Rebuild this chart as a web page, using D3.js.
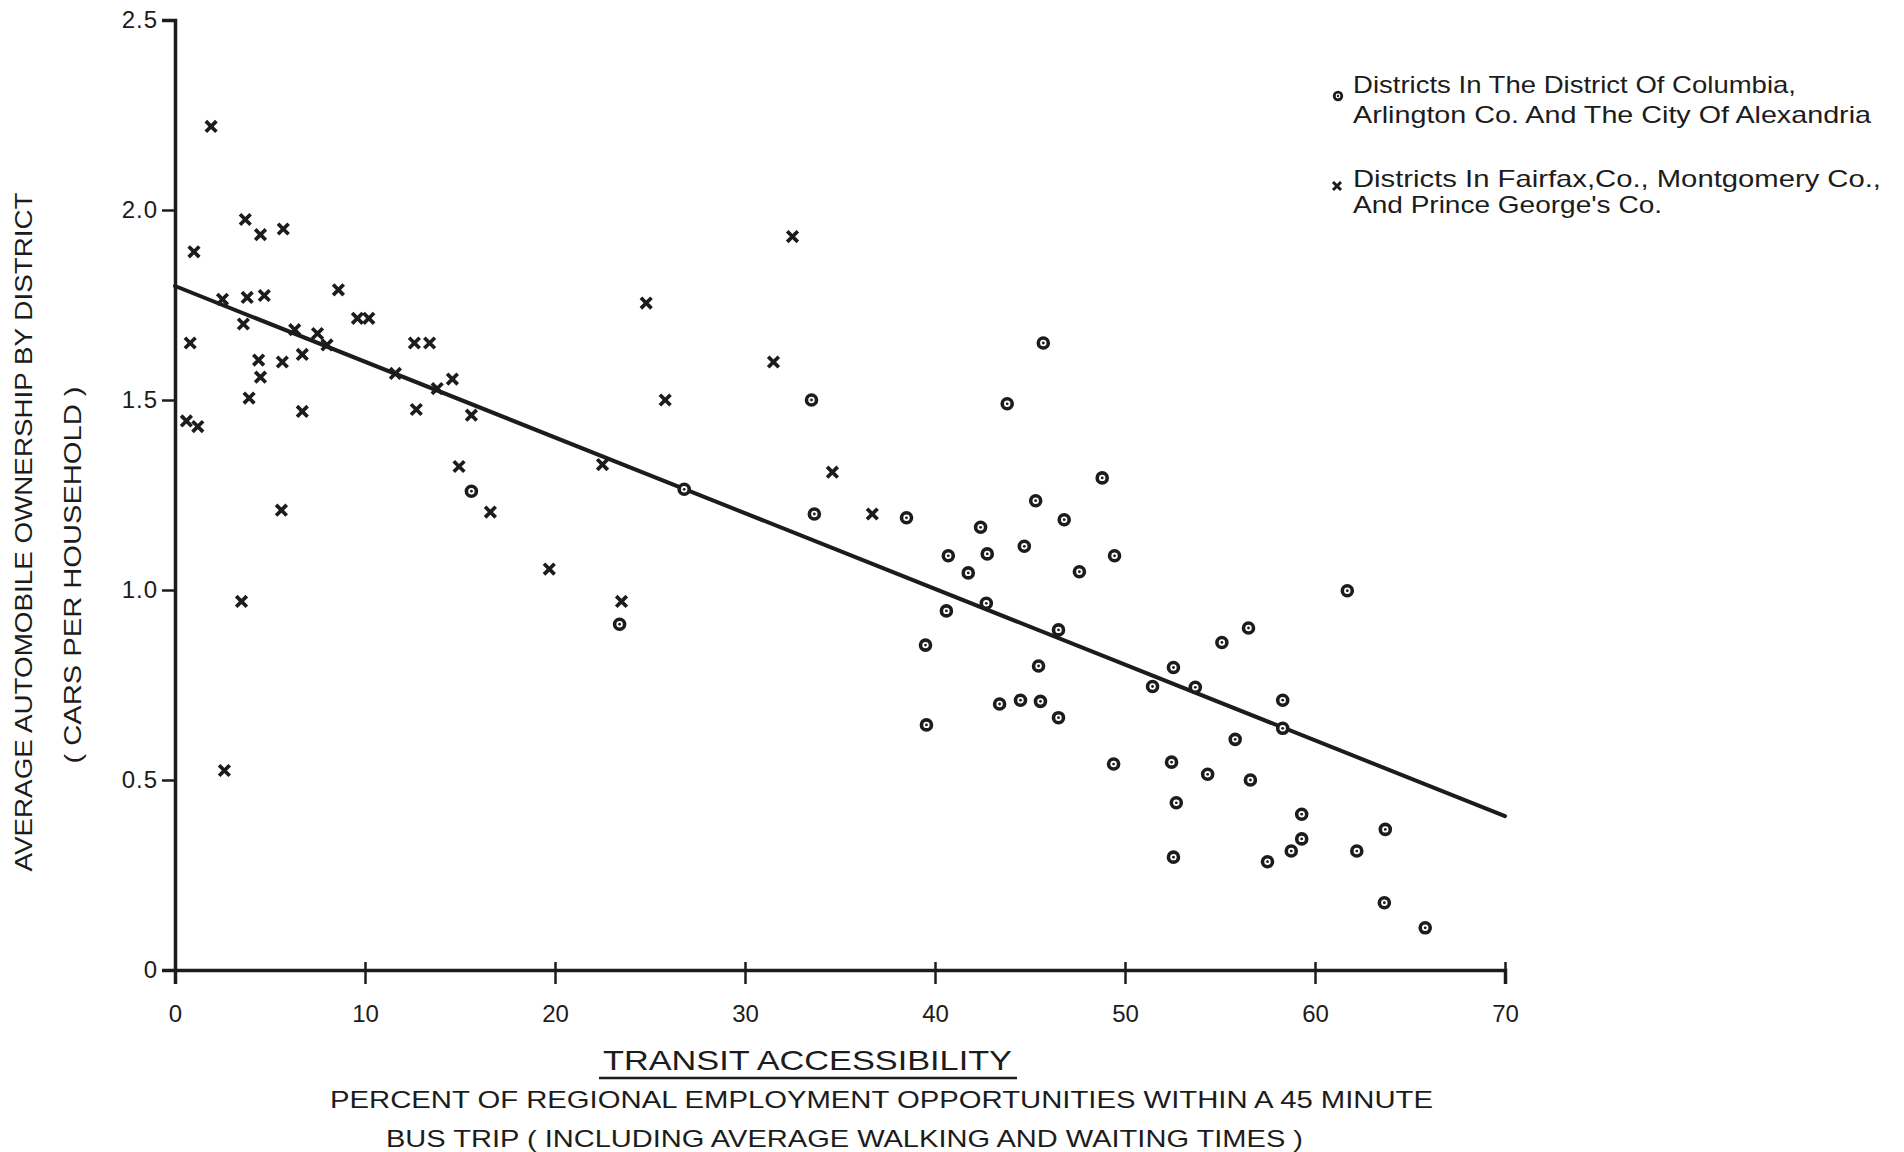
<!DOCTYPE html>
<html>
<head>
<meta charset="utf-8">
<script src="https://cdn.jsdelivr.net/npm/d3@7"></script>
<style>
  html, body { margin: 0; padding: 0; background: #ffffff; }
  svg { display: block; }
  text { font-family: "Liberation Sans", Arial, sans-serif; fill: #1c1c1c; }
</style>
</head>
<body>
<svg id="chart" width="1904" height="1152"></svg>
<script>
// ---------- data ----------
// Districts in D.C., Arlington Co. and the City of Alexandria (circles)
const circleX = [15.6, 23.4, 26.8, 33.5, 33.65, 38.5, 45.7, 43.8, 45.3, 42.4,
                 44.7, 40.7, 42.75, 41.75, 42.7, 40.6, 39.5, 45.45, 43.4, 44.5,
                 45.55, 39.55, 48.8, 46.8, 49.45, 47.6, 61.7, 46.5, 56.5, 55.1,
                 52.55, 51.45, 53.7, 58.3, 58.3, 46.5, 55.8, 49.4, 52.45, 54.35,
                 56.6, 52.7, 59.3, 63.7, 59.3, 58.75, 62.2, 52.55, 57.5, 63.65, 65.8];
const circleY = [1.26, 0.91, 1.265, 1.50, 1.20, 1.19, 1.65, 1.49, 1.235, 1.165,
                 1.115, 1.09, 1.095, 1.045, 0.965, 0.945, 0.855, 0.80, 0.70, 0.71,
                 0.707, 0.645, 1.295, 1.185, 1.09, 1.048, 0.998, 0.895, 0.90, 0.862,
                 0.796, 0.746, 0.744, 0.71, 0.636, 0.664, 0.607, 0.542, 0.547, 0.515,
                 0.50, 0.44, 0.41, 0.37, 0.345, 0.313, 0.313, 0.297, 0.285, 0.177, 0.111];

// Districts in Fairfax, Montgomery and Prince George's Co. (crosses)
const crossX = [1.9, 3.7, 4.5, 5.7, 1.0, 8.6, 2.5, 3.8, 4.7, 9.6,
                10.2, 3.6, 6.3, 7.5, 8.0, 0.8, 4.4, 5.65, 6.7, 4.5,
                3.9, 6.7, 0.6, 1.2, 12.6, 13.4, 11.6, 13.8, 14.6, 12.7,
                15.6, 14.95, 16.6, 5.6, 19.7, 3.5, 2.6, 22.5, 23.5, 24.8,
                32.5, 31.5, 25.8, 34.6, 36.7];
const crossY = [2.22, 1.975, 1.935, 1.95, 1.89, 1.79, 1.765, 1.77, 1.775, 1.715,
                1.715, 1.70, 1.685, 1.675, 1.645, 1.65, 1.605, 1.60, 1.62, 1.56,
                1.505, 1.47, 1.445, 1.43, 1.65, 1.65, 1.57, 1.53, 1.555, 1.475,
                1.46, 1.325, 1.205, 1.21, 1.055, 0.97, 0.525, 1.33, 0.97, 1.755,
                1.93, 1.60, 1.50, 1.31, 1.20];

// fitted regression line
const fitX = [0, 70];
const fitY = [1.80, 0.405];

const xTicks = [0, 10, 20, 30, 40, 50, 60, 70];
const yTicks = [0, 0.5, 1.0, 1.5, 2.0, 2.5];
const yTickLabels = ["0", "0.5", "1.0", "1.5", "2.0", "2.5"];

const legendLabels = [
  ["Districts In The District Of Columbia,", "Arlington Co. And The City Of Alexandria"],
  ["Districts In Fairfax,Co., Montgomery Co.,", "And Prince George's Co."]
];
const yTitle = ["AVERAGE AUTOMOBILE OWNERSHIP BY DISTRICT", "( CARS PER HOUSEHOLD )"];
const xTitle = "TRANSIT  ACCESSIBILITY";
const xSub = ["PERCENT OF REGIONAL EMPLOYMENT OPPORTUNITIES WITHIN A 45 MINUTE",
              "BUS TRIP ( INCLUDING AVERAGE WALKING AND WAITING TIMES )"];

// ---------- drawing ----------
const ink = "#1c1c1c";
const svg = d3.select("#chart");
svg.append("rect").attr("width", 1904).attr("height", 1152).attr("fill", "#fff");

const x = d3.scaleLinear().domain([0, 70]).range([175, 1505]);
const y = d3.scaleLinear().domain([0, 2.5]).range([970, 20]);

// x axis
const xAxis = svg.append("g")
  .attr("transform", `translate(0,${y(0)})`)
  .call(d3.axisBottom(x).tickValues(xTicks).tickSizeOuter(0).tickSize(14).tickPadding(30)
        .tickFormat(d3.format("d")));
xAxis.select(".domain").attr("stroke", ink).attr("stroke-width", 3.5);
xAxis.selectAll(".tick line").attr("stroke", ink).attr("stroke-width", 2.5).attr("y1", -8)
  .filter(d => d === 0).remove();
xAxis.selectAll(".tick text").attr("font-size", 24).attr("fill", ink).attr("dy", "0.35em").attr("y", 44)
  .style("font-family", "'Liberation Sans Narrow', 'Liberation Sans', Arial, sans-serif");

// y axis
const yAxis = svg.append("g")
  .attr("transform", `translate(${x(0)},0)`)
  .call(d3.axisLeft(y).tickValues(yTicks).tickSizeOuter(0).tickSize(13).tickPadding(4)
        .tickFormat((d, i) => yTickLabels[i]));
yAxis.select(".domain").attr("stroke", ink).attr("stroke-width", 3.5);
yAxis.selectAll(".tick line").attr("stroke", ink).attr("stroke-width", 2.5)
  .filter(d => d === 0).remove();
yAxis.selectAll(".tick text").attr("font-size", 24).attr("fill", ink).attr("letter-spacing", 1);

// regression line
svg.append("line")
  .attr("x1", x(fitX[0])).attr("y1", y(fitY[0]))
  .attr("x2", x(fitX[1])).attr("y2", y(fitY[1]))
  .attr("stroke", ink).attr("stroke-width", 4).attr("stroke-linecap", "round");

// markers
function crossPath(h) {
  return `M${-h},${-h}L${h},${h}M${-h},${h}L${h},${-h}`;
}
const crosses = d3.range(crossX.length).map(i => ({ x: crossX[i], y: crossY[i] }));
const circles = d3.range(circleX.length).map(i => ({ x: circleX[i], y: circleY[i] }));

svg.append("g").selectAll("path").data(crosses).join("path")
  .attr("transform", d => `translate(${x(d.x)},${y(d.y)})`)
  .attr("d", crossPath(5.3))
  .attr("stroke", ink).attr("stroke-width", 3.7).attr("fill", "none");

const cg = svg.append("g").selectAll("g").data(circles).join("g")
  .attr("transform", d => `translate(${x(d.x)},${y(d.y)})`);
cg.append("circle").attr("r", 5).attr("fill", "#fff").attr("stroke", ink).attr("stroke-width", 3.6);
cg.append("circle").attr("r", 1.4).attr("fill", ink);

// legend
const lg = svg.append("g");
const legendRows = [
  { cx: 1338, cy: 96, base: [93, 123], len: [443, 518], type: "circle" },
  { cx: 1337, cy: 186, base: [187, 213], len: [528, 309], type: "cross" }
];
legendRows.forEach((r, i) => {
  if (r.type === "circle") {
    lg.append("circle").attr("cx", r.cx).attr("cy", r.cy).attr("r", 3.8)
      .attr("fill", "#fff").attr("stroke", ink).attr("stroke-width", 2.8);
    lg.append("circle").attr("cx", r.cx).attr("cy", r.cy).attr("r", 1.2).attr("fill", ink);
  } else {
    lg.append("path").attr("transform", `translate(${r.cx},${r.cy})`).attr("d", crossPath(4))
      .attr("stroke", ink).attr("stroke-width", 3).attr("fill", "none");
  }
  legendLabels[i].forEach((t, j) => {
    lg.append("text").attr("x", 1353).attr("y", r.base[j]).attr("font-size", 24)
      .attr("textLength", r.len[j]).attr("lengthAdjust", "spacingAndGlyphs").text(t);
  });
});

// y title
const yt = svg.append("g");
yt.append("text").attr("transform", "translate(32,532) rotate(-90)")
  .attr("text-anchor", "middle").attr("font-size", 24)
  .attr("textLength", 679).attr("lengthAdjust", "spacingAndGlyphs").text(yTitle[0]);
yt.append("text").attr("transform", "translate(81,575) rotate(-90)")
  .attr("text-anchor", "middle").attr("font-size", 24)
  .attr("textLength", 377).attr("lengthAdjust", "spacingAndGlyphs").text(yTitle[1]);

// x titles
const xt = svg.append("g");
xt.append("text").attr("x", 603).attr("y", 1070).attr("font-size", 28)
  .attr("textLength", 409).attr("lengthAdjust", "spacingAndGlyphs").text(xTitle);
xt.append("line").attr("x1", 599).attr("x2", 1017).attr("y1", 1078).attr("y2", 1078)
  .attr("stroke", ink).attr("stroke-width", 2.5);
xt.append("text").attr("x", 330).attr("y", 1108).attr("font-size", 24)
  .attr("textLength", 1103).attr("lengthAdjust", "spacingAndGlyphs").text(xSub[0]);
xt.append("text").attr("x", 386).attr("y", 1147).attr("font-size", 24)
  .attr("textLength", 917).attr("lengthAdjust", "spacingAndGlyphs").text(xSub[1]);
</script>
</body>
</html>
